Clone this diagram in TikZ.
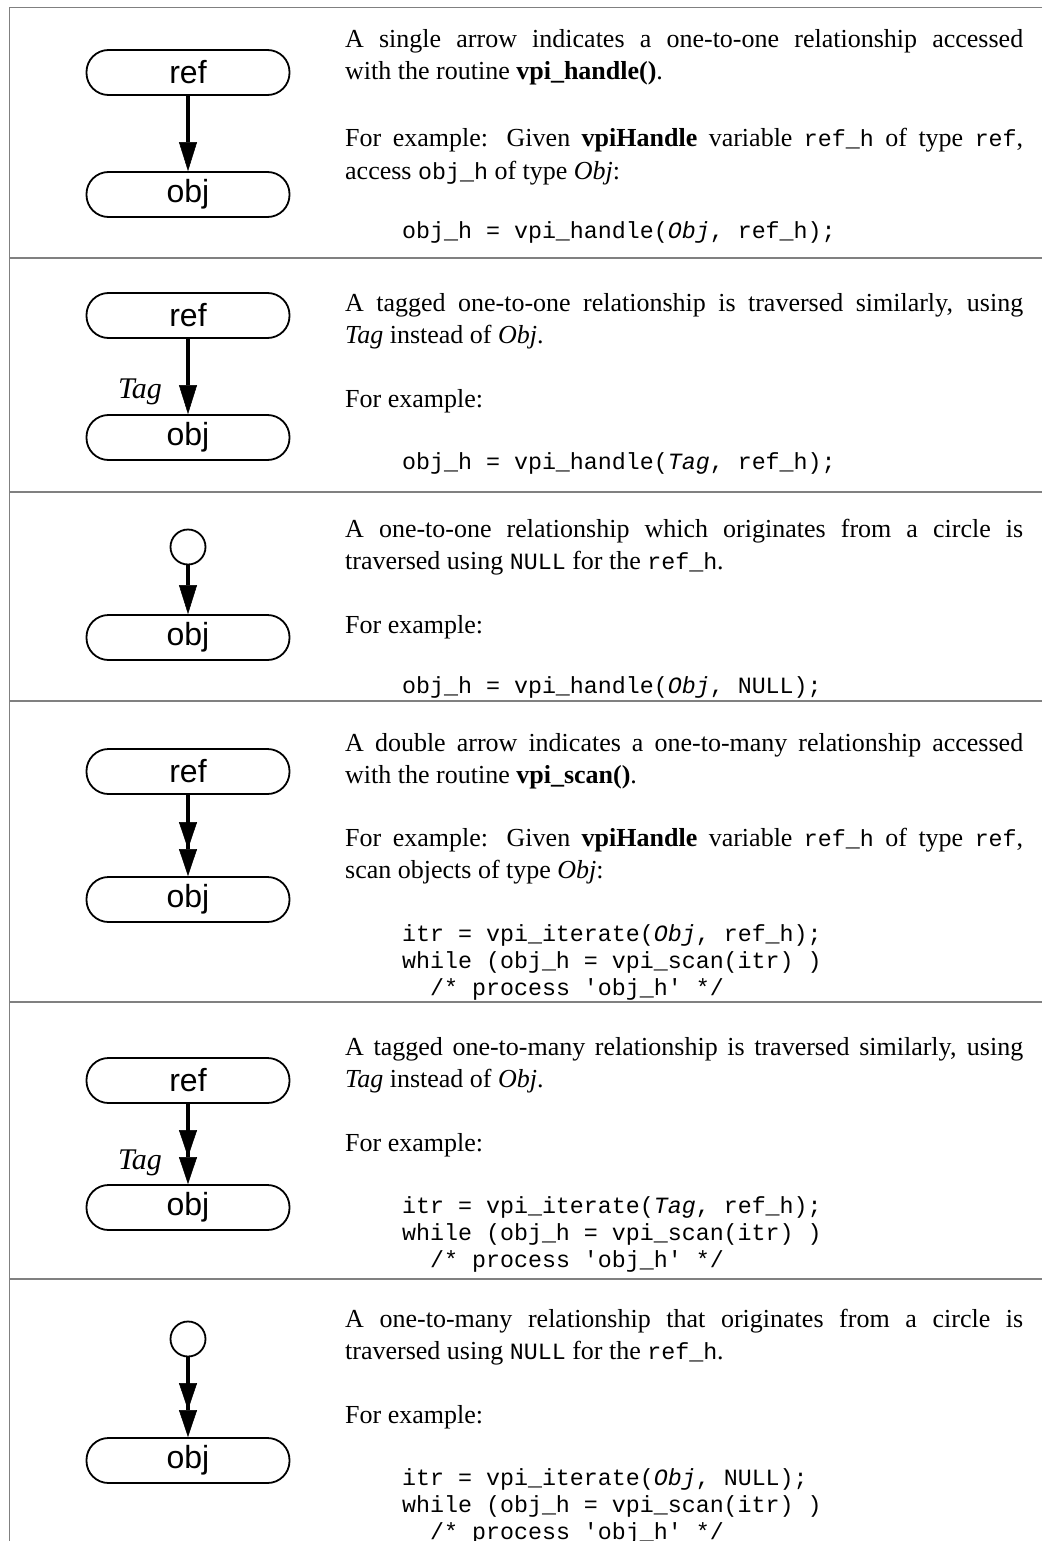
\documentclass[tikz,border=0pt]{standalone}
\usepackage{fontspec}
\setmainfont{Liberation Serif}
\setmonofont{Liberation Mono}
\newfontfamily\lblfont{Liberation Sans}
\usetikzlibrary{arrows.meta}
\newcommand\mtt[1]{{\fontsize{23.3}{27}\selectfont\ttfamily #1}}
\newcommand\jline[1]{\makebox[678pt][s]{#1}}
\tikzset{
  pill/.style={draw, line width=1.8pt, rounded corners=22pt, minimum width=203pt, minimum height=45pt, inner sep=0pt, font=\lblfont\fontsize{32}{32}\selectfont},
  orig/.style={draw, circle, line width=1.8pt, minimum size=35pt, inner sep=0pt},
  one/.style={line width=3.5pt, -{Triangle[length=29pt,width=18pt,line width=0.5pt]}},
  many/.style={line width=3.5pt, -{Triangle[length=27pt,width=18pt,line width=0.5pt] Triangle[length=27pt,width=18pt,line width=0.5pt]}},
  tagl/.style={inner sep=0pt, font=\itshape\fontsize{30}{30}\selectfont},
  rulel/.style={draw=black!50, line width=1.5pt},
  body/.style={anchor=base west, inner sep=0pt, font=\fontsize{26}{31}\selectfont},
  codel/.style={anchor=base west, inner sep=0pt, font=\fontsize{23.3}{27}\selectfont\ttfamily}
}
\begin{document}
\begin{tikzpicture}[x=1pt,y=-1pt]
\useasboundingbox (0,0) rectangle (1042,1541);
% frame and dividers
\draw[rulel] (1042,7.5) -- (9.5,7.5) -- (9.5,1541);
\foreach \yy in {258,492,701,1002,1279} \draw[rulel] (9.5,\yy) -- (1042,\yy);

% ---------- panel 1
\node[pill] (ref1) at (188,72.5) {ref};
\node[pill] (obj1) at (188,194.5) {obj};
\draw[one] (ref1) -- (obj1);
\node[body] (t1a) at (345,48) {\jline{A single arrow indicates a one-to-one relationship accessed}};
\node[body] (t1b) at (345,80) {with the routine \textbf{vpi\_handle()}.};
\node[body] (t1c) at (345,147) {\jline{For example: Given \textbf{vpiHandle} variable \mtt{ref\_h} of type \mtt{ref},}};
\node[body] (t1d) at (345,179) {access \mtt{obj\_h} of type \textit{Obj}:};
\node[codel] (c1a) at (402,238) {obj\_h = vpi\_handle(\textit{Obj}, ref\_h);};

% ---------- panel 2
\node[pill] (ref2) at (188,315.5) {ref};
\node[pill] (obj2) at (188,437.5) {obj};
\draw[one] (ref2) -- (obj2);
\node[tagl] (tag2) at (140,392) {Tag};
\node[body] (t2a) at (345,311) {\jline{A tagged one-to-one relationship is traversed similarly, using}};
\node[body] (t2b) at (345,343) {\textit{Tag} instead of \textit{Obj}.};
\node[body] (t2c) at (345,407) {For example:};
\node[codel] (c2a) at (402,469) {obj\_h = vpi\_handle(\textit{Tag}, ref\_h);};

% ---------- panel 3
\node[orig] (cir3) at (188,547) {};
\node[pill] (obj3) at (188,637.5) {obj};
\draw[one] (cir3) -- (obj3);
\node[body] (t3a) at (345,537) {\jline{A one-to-one relationship which originates from a circle is}};
\node[body] (t3b) at (345,569) {traversed using \mtt{NULL} for the \mtt{ref\_h}.};
\node[body] (t3c) at (345,633) {For example:};
\node[codel] (c3a) at (402,693) {obj\_h = vpi\_handle(\textit{Obj}, NULL);};

% ---------- panel 4
\node[pill] (ref4) at (188,771.5) {ref};
\node[pill] (obj4) at (188,899.5) {obj};
\draw[many] (ref4) -- (obj4);
\node[body] (t4a) at (345,751) {\jline{A double arrow indicates a one-to-many relationship accessed}};
\node[body] (t4b) at (345,783) {with the routine \textbf{vpi\_scan()}.};
\node[body] (t4c) at (345,846) {\jline{For example: Given \textbf{vpiHandle} variable \mtt{ref\_h} of type \mtt{ref},}};
\node[body] (t4d) at (345,878) {scan objects of type \textit{Obj}:};
\node[codel] (c4a) at (402,941) {itr = vpi\_iterate(\textit{Obj}, ref\_h);};
\node[codel] (c4b) at (402,968) {while (obj\_h = vpi\_scan(itr) )};
\node[codel] (c4c) at (430,995) {/* process 'obj\_h' */};

% ---------- panel 5
\node[pill] (ref5) at (188,1080.5) {ref};
\node[pill] (obj5) at (188,1207.5) {obj};
\draw[many] (ref5) -- (obj5);
\node[tagl] (tag5) at (140,1163) {Tag};
\node[body] (t5a) at (345,1055) {\jline{A tagged one-to-many relationship is traversed similarly, using}};
\node[body] (t5b) at (345,1087) {\textit{Tag} instead of \textit{Obj}.};
\node[body] (t5c) at (345,1151) {For example:};
\node[codel] (c5a) at (402,1213) {itr = vpi\_iterate(\textit{Tag}, ref\_h);};
\node[codel] (c5b) at (402,1240) {while (obj\_h = vpi\_scan(itr) )};
\node[codel] (c5c) at (430,1267) {/* process 'obj\_h' */};

% ---------- panel 6
\node[orig] (cir6) at (188,1339) {};
\node[pill] (obj6) at (188,1460.5) {obj};
\draw[many] (cir6) -- (obj6);
\node[body] (t6a) at (345,1327) {\jline{A one-to-many relationship that originates from a circle is}};
\node[body] (t6b) at (345,1359) {traversed using \mtt{NULL} for the \mtt{ref\_h}.};
\node[body] (t6c) at (345,1423) {For example:};
\node[codel] (c6a) at (402,1485) {itr = vpi\_iterate(\textit{Obj}, NULL);};
\node[codel] (c6b) at (402,1512) {while (obj\_h = vpi\_scan(itr) )};
\node[codel] (c6c) at (430,1539) {/* process 'obj\_h' */};
\end{tikzpicture}
\end{document}
